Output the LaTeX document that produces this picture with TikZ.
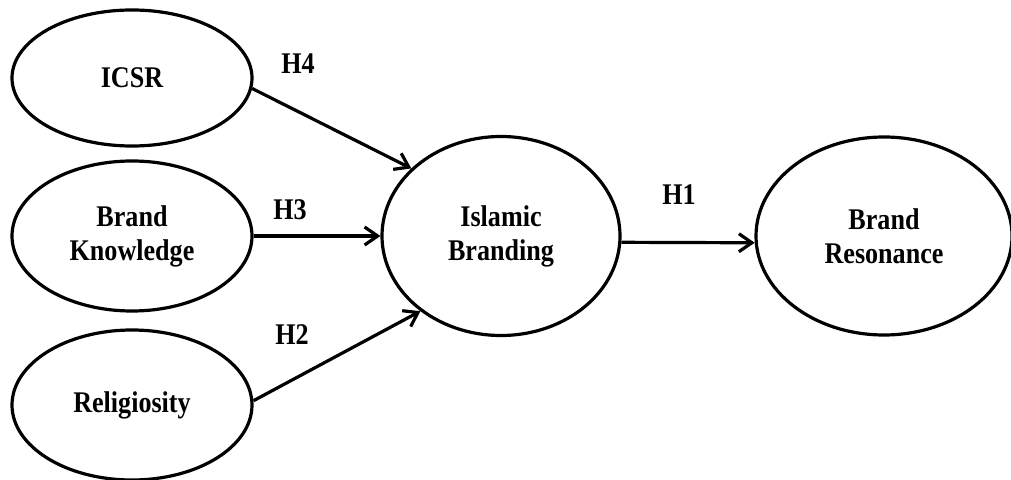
\documentclass[tikz,border=0pt]{standalone}
\usepackage{fontspec}
\setmainfont[FakeStretch=0.87]{Liberation Serif}
\usetikzlibrary{shapes.geometric,arrows.meta}
\begin{document}
\begin{tikzpicture}[x=0.5pt,y=-0.5pt,
    construct/.style={ellipse,draw,line width=1.6pt,inner sep=0pt,align=center,
      font=\fontsize{15}{17}\selectfont\bfseries},
    hyp/.style={font=\fontsize{15}{17}\selectfont\bfseries},
    >={Straight Barb[length=6.5pt,width=9pt]}]
    \useasboundingbox (0,0) rectangle (1011,480);

    \node[construct,minimum width=120pt,minimum height=68pt]   (ICSR) at (132,78)  {ICSR};
    \node[construct,minimum width=120pt,minimum height=75pt]   (BK)   at (132,236) {Brand\\Knowledge};
    \node[construct,minimum width=120pt,minimum height=75pt]   (REL)  at (132,405) {Religiosity};
    \node[construct,minimum width=119pt,minimum height=99.5pt] (IB)   at (501,236) {Islamic\\Branding};
    \node[construct,minimum width=128pt,minimum height=99pt]   (BR)   at (884,236) {Brand\\Resonance};

    \node[hyp] (H4) at (298,64)  {H4};
    \node[hyp] (H3) at (290,210) {H3};
    \node[hyp] (H2) at (292,335) {H2};
    \node[hyp] (H1) at (679,195) {H1};

    \draw[->,line width=1.6pt] (ICSR.-5) -- (IB.143);
    \draw[->,line width=1.6pt] (BK) -- (IB);
    \draw[->,line width=1.6pt] (REL.2) -- (IB.223);
    \draw[->,line width=1.6pt] (IB.-3) -- (BR.183);
  \end{tikzpicture}
\end{document}
